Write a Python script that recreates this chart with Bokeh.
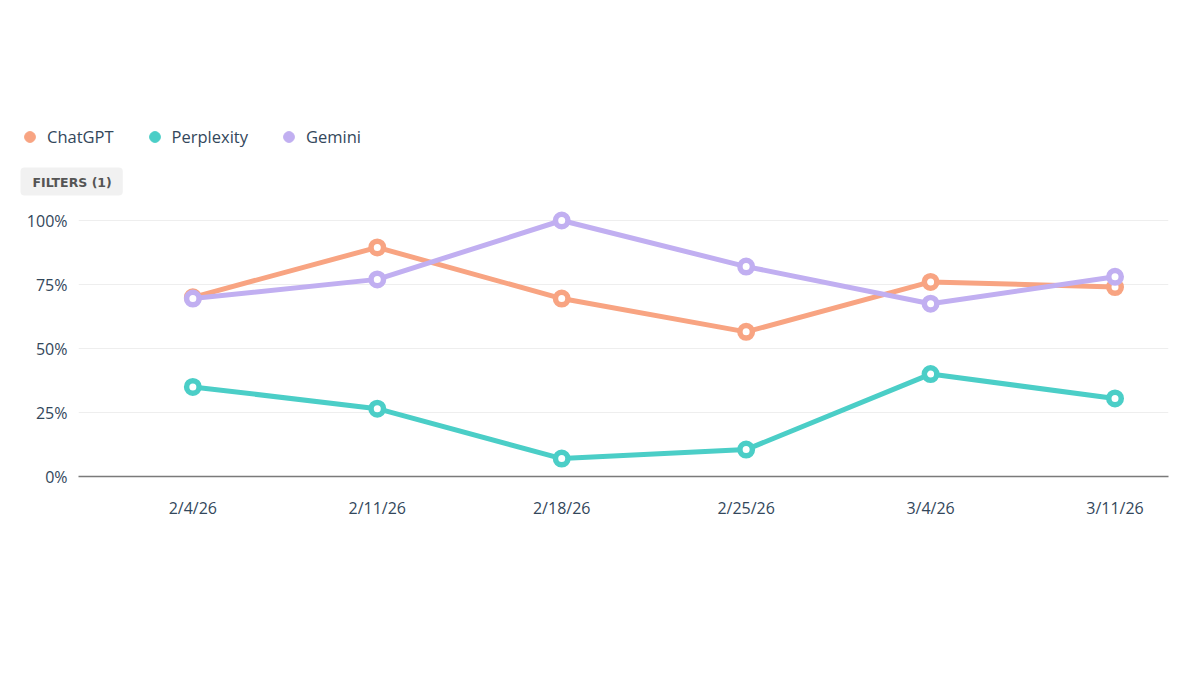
from bokeh.plotting import figure
from bokeh.layouts import column
from bokeh.models import Range1d, FixedTicker, PrintfTickFormatter, Legend, LegendItem, Label
from bokeh.embed import file_html
from bokeh.resources import INLINE

dates = ["2/4/26", "2/11/26", "2/18/26", "2/25/26", "3/4/26", "3/11/26"]
chatgpt = [70, 89.5, 69.5, 56.5, 76, 74]
perplexity = [35, 26.5, 7, 10.5, 40, 30.5]
gemini = [69.5, 77, 100, 82, 67.5, 78]
series_names = ["ChatGPT", "Perplexity", "Gemini"]
series_values = [chatgpt, perplexity, gemini]
colors = ["#F8A482", "#4BCEC7", "#C1AFF1"]
y_ticks = [0, 25, 50, 75, 100]

FONT = "Open Sans"
TXT = "#33475b"

x = list(range(len(dates)))

# ---- header (legend + filter chip) ----
HW, HH = 1184, 200
h = figure(width=HW, height=HH, x_range=Range1d(0, HW), y_range=Range1d(0, HH),
           output_backend="svg", toolbar_location=None,
           x_axis_location=None, y_axis_location=None,
           min_border_left=0, min_border_right=0, min_border_top=0, min_border_bottom=0)
h.frame_align = False
h.outline_line_color = None
h.xgrid.grid_line_color = None
h.ygrid.grid_line_color = None

items = []
for name, c in zip(series_names, colors):
    dummy = h.scatter([-1000], [-1000], size=11, marker="circle", fill_color=c, line_color=c)
    items.append(LegendItem(label=name, renderers=[dummy]))

legend = Legend(items=items, orientation="horizontal", location=(16, 50),
                spacing=27, glyph_width=27, glyph_height=27, label_standoff=4,
                padding=0, margin=0, border_line_color=None,
                background_fill_alpha=0,
                label_text_font=FONT, label_text_font_size="16.5px",
                label_text_color=TXT)
h.add_layout(legend, "center")

filt = Label(x=20, y=19, text="FILTERS (1)", text_font="DejaVu Sans", text_font_size="12.5px",
             text_font_style="bold", text_color="#555555",
             text_align="left", text_baseline="middle",
             background_fill_color="#f1f1f1",
             padding=dict(left=12, right=11, top=7, bottom=6), border_radius=4)
h.add_layout(filt)

# ---- main chart ----
p = figure(width=1184, height=459,
           x_range=Range1d(-0.62, 5.29), y_range=Range1d(0, 105.86),
           output_backend="svg", toolbar_location=None,
           min_border_left=78, min_border_right=16,
           min_border_top=5, min_border_bottom=183)
p.frame_align = False
p.outline_line_color = None

p.xgrid.grid_line_color = None
p.ygrid.grid_line_color = "#eeeeee"
p.ygrid.grid_line_width = 1
p.yaxis.ticker = FixedTicker(ticks=y_ticks)
p.yaxis.formatter = PrintfTickFormatter(format="%d%%")
p.yaxis.axis_line_color = None
p.yaxis.major_tick_line_color = None
p.yaxis.minor_tick_line_color = None
p.yaxis.major_label_text_font = FONT
p.yaxis.major_label_text_font_size = "16px"
p.yaxis.major_label_text_color = TXT
p.yaxis.major_label_standoff = 5

p.xaxis.ticker = FixedTicker(ticks=x)
p.xaxis.major_label_overrides = {i: d for i, d in zip(x, dates)}
p.xaxis.axis_line_color = "#7a7a7a"
p.xaxis.axis_line_width = 1.5
p.xaxis.major_tick_line_color = None
p.xaxis.minor_tick_line_color = None
p.xaxis.major_label_text_font = FONT
p.xaxis.major_label_text_font_size = "16px"
p.xaxis.major_label_text_color = TXT
p.xaxis.major_label_standoff = 14

for name, vals, c in zip(series_names, series_values, colors):
    p.line(x, vals, line_color=c, line_width=5)
    p.scatter(x, vals, size=12.5, marker="circle", fill_color="white",
              line_color=c, line_width=5.5)

layout = column(h, p, spacing=0)
open("out.html", "w").write(file_html(layout, INLINE))
